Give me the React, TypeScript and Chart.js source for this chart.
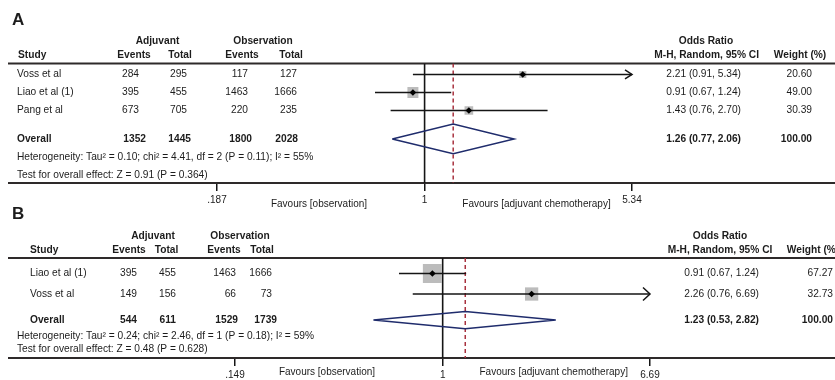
import React, { useEffect, useRef } from "react";
import { Chart, registerables } from "chart.js";

Chart.register(...registerables);

// ---------------- Panel A data ----------------
const studiesA = ["Voss et al", "Liao et al (1)", "Pang et al"];
const adjEventsA = [284, 395, 673];
const adjTotalA = [295, 455, 705];
const obsEventsA = [117, 1463, 220];
const obsTotalA = [127, 1666, 235];
const oddsRatioA = [2.21, 0.91, 1.43];
const ciLowerA = [0.91, 0.67, 0.76];
const ciUpperA = [5.34, 1.24, 2.7];
const weightsA = [20.6, 49.0, 30.39];
const overallCountsA = [1352, 1445, 1800, 2028];
const overallEstimateA = [1.26, 0.77, 2.06]; // OR, lower, upper
const overallWeightA = 100;
const heterogeneityA = "Heterogeneity: Tau² = 0.10; chi² = 4.41, df = 2 (P = 0.11); I² = 55%";
const overallTestA = "Test for overall effect: Z = 0.91 (P = 0.364)";
const tickValuesA = [0.187, 1, 5.34];
const tickLabelsA = [".187", "1", "5.34"];

// ---------------- Panel B data ----------------
const studiesB = ["Liao et al (1)", "Voss et al"];
const adjEventsB = [395, 149];
const adjTotalB = [455, 156];
const obsEventsB = [1463, 66];
const obsTotalB = [1666, 73];
const oddsRatioB = [0.91, 2.26];
const ciLowerB = [0.67, 0.76];
const ciUpperB = [1.24, 6.69];
const weightsB = [67.27, 32.73];
const overallCountsB = [544, 611, 1529, 1739];
const overallEstimateB = [1.23, 0.53, 2.82];
const overallWeightB = 100;
const heterogeneityB = "Heterogeneity: Tau² = 0.24; chi² = 2.46, df = 1 (P = 0.18); I² = 59%";
const overallTestB = "Test for overall effect: Z = 0.48 (P = 0.628)";
const tickValuesB = [0.149, 1, 6.69];
const tickLabelsB = [".149", "1", "6.69"];

// ---------------- shared texts ----------------
const groupHeaders = ["Adjuvant", "Observation", "Odds Ratio"];
const columnHeaders = ["Events", "Total", "Events", "Total"];
const studyHeader = "Study";
const ciHeader = "M-H, Random, 95% CI";
const weightHeader = "Weight (%)";
const overallLabel = "Overall";
const favoursLabels = ["Favours [observation]", "Favours [adjuvant chemotherapy]"];

const FONT = '"Liberation Sans", Arial, Helvetica, sans-serif';
const TEXT_SIZE = 10.2;
const TEXT = "#1c1c1c";
const LINE = "#151515";
const RULE = "#2e2a2a";
const RED = "#a8323f";
const NAVY = "#1f2c6c";
const GREY = "#bcbcbc";

type Panel = {
  studies: string[];
  adjEvents: number[];
  adjTotal: number[];
  obsEvents: number[];
  obsTotal: number[];
  or: number[];
  lo: number[];
  hi: number[];
  weights: number[];
  overallCounts: number[];
  overall: number[];
  overallWeight: number;
  het: string;
  test: string;
  tickValues: number[];
  tickLabels: string[];
};

type Layout = {
  label: string;
  labelX: number;
  labelDy: number;
  padding: { left: number; right: number; top: number; bottom: number };
  yMin: number;
  yMax: number;
  rows: number[];
  overallY: number;
  hetY: number;
  testY: number;
  diamondHalf: number;
  squareScale: number;
  header1Dy: number;
  header2Dy: number;
  groupX: number[];
  studyX: number;
  colX: number[];
  ciHeaderX: number;
  weightHeaderX: number;
  rowLabelX: number;
  hetX: number;
  valueRight: number[];
  overallRight: number[];
  orRight: number;
  weightRight: number;
  favoursX: number[];
  favoursDy: number;
  arrowLen: number;
  arrowHalf: number;
};

const panelA: Panel = {
  studies: studiesA, adjEvents: adjEventsA, adjTotal: adjTotalA, obsEvents: obsEventsA, obsTotal: obsTotalA,
  or: oddsRatioA, lo: ciLowerA, hi: ciUpperA, weights: weightsA, overallCounts: overallCountsA,
  overall: overallEstimateA, overallWeight: overallWeightA, het: heterogeneityA, test: overallTestA,
  tickValues: tickValuesA, tickLabels: tickLabelsA,
};

const panelB: Panel = {
  studies: studiesB, adjEvents: adjEventsB, adjTotal: adjTotalB, obsEvents: obsEventsB, obsTotal: obsTotalB,
  or: oddsRatioB, lo: ciLowerB, hi: ciUpperB, weights: weightsB, overallCounts: overallCountsB,
  overall: overallEstimateB, overallWeight: overallWeightB, het: heterogeneityB, test: overallTestB,
  tickValues: tickValuesB, tickLabels: tickLabelsB,
};

const AXIS_H = 20;

const layoutA: Layout = {
  label: "A", labelX: 12, labelDy: -43,
  padding: { left: 217, right: 203, top: 63.5, bottom: 380 - 183 - AXIS_H },
  yMin: 0.39, yMax: 7.03, rows: [1, 2, 3], overallY: 4.58, hetY: 5.6, testY: 6.6,
  diamondHalf: 0.83, squareScale: 1.57,
  header1Dy: -22.5, header2Dy: -8.5,
  groupX: [157.5, 263, 706], studyX: 18, colX: [134, 180, 242, 291], ciHeaderX: 706.7, weightHeaderX: 800,
  rowLabelX: 17, hetX: 17,
  valueRight: [139, 187, 248, 297], overallRight: [146, 191, 252, 298], orRight: 741, weightRight: 812,
  favoursX: [319, 536.5], favoursDy: 21,
  arrowLen: 7, arrowHalf: 4.5,
};

const layoutB: Layout = {
  label: "B", labelX: 12, labelDy: -43.5,
  padding: { left: 235, right: 185, top: 258, bottom: 380 - 358 - AXIS_H },
  yMin: 0.244, yMax: 5.12, rows: [1, 2], overallY: 3.27, hetY: 4.05, testY: 4.68,
  diamondHalf: 0.42, squareScale: 2.32,
  header1Dy: -22.3, header2Dy: -8,
  groupX: [153, 240, 720], studyX: 30, colX: [129, 166.5, 224, 262], ciHeaderX: 720, weightHeaderX: 813,
  rowLabelX: 30, hetX: 17,
  valueRight: [137, 176, 236, 272], overallRight: [137, 176, 238, 277], orRight: 759, weightRight: 833,
  favoursX: [327, 553.7], favoursDy: 14,
  arrowLen: 7, arrowHalf: 6.5,
};

const fmtCI = (e: number, l: number, h: number) => `${e.toFixed(2)} (${l.toFixed(2)}, ${h.toFixed(2)})`;

function makePlugin(p: Panel, L: Layout) {
  return {
    id: "forestText" + L.label,
    beforeDatasetsDraw(chart: any) {
      const ctx = chart.ctx;
      const { top, bottom } = chart.chartArea;
      ctx.save();
      ctx.strokeStyle = RULE;
      ctx.lineWidth = 2;
      ctx.beginPath();
      ctx.moveTo(8, top);
      ctx.lineTo(835, top);
      ctx.moveTo(8, bottom);
      ctx.lineTo(835, bottom);
      ctx.stroke();
      ctx.restore();
    },
    afterDatasetsDraw(chart: any) {
      const ctx = chart.ctx;
      const xs = chart.scales.x;
      const ys = chart.scales.y;
      const xMax = p.tickValues[p.tickValues.length - 1];
      const xMin = p.tickValues[0];
      ctx.save();
      ctx.strokeStyle = LINE;
      ctx.lineWidth = 1.5;
      p.hi.forEach((h, i) => {
        const y = ys.getPixelForValue(L.rows[i]);
        if (h >= xMax) {
          const tip = xs.getPixelForValue(xMax);
          ctx.beginPath();
          ctx.moveTo(tip - L.arrowLen, y - L.arrowHalf);
          ctx.lineTo(tip, y);
          ctx.lineTo(tip - L.arrowLen, y + L.arrowHalf);
          ctx.stroke();
        }
        if (p.lo[i] <= xMin) {
          const tip = xs.getPixelForValue(xMin);
          ctx.beginPath();
          ctx.moveTo(tip + L.arrowLen, y - L.arrowHalf);
          ctx.lineTo(tip, y);
          ctx.lineTo(tip + L.arrowLen, y + L.arrowHalf);
          ctx.stroke();
        }
      });
      ctx.restore();
    },
    afterDraw(chart: any) {
      const ctx = chart.ctx;
      const { top, bottom } = chart.chartArea;
      const ys = chart.scales.y;
      const put = (t: string, x: number, y: number, align: CanvasTextAlign, bold: boolean, size = TEXT_SIZE) => {
        ctx.font = `${bold ? "bold " : ""}${size}px ${FONT}`;
        ctx.textAlign = align;
        ctx.fillText(t, x, y);
      };
      ctx.save();
      ctx.fillStyle = TEXT;
      ctx.textBaseline = "middle";
      // panel letter
      put(L.label, L.labelX, top + L.labelDy, "left", true, 17);
      // headers
      const h1 = top + L.header1Dy;
      const h2 = top + L.header2Dy;
      groupHeaders.forEach((g, i) => put(g, L.groupX[i], h1, "center", true));
      put(studyHeader, L.studyX, h2, "left", true);
      columnHeaders.forEach((c, i) => put(c, L.colX[i], h2, "center", true));
      put(ciHeader, L.ciHeaderX, h2, "center", true);
      put(weightHeader, L.weightHeaderX, h2, "center", true);
      // study rows
      p.studies.forEach((s, i) => {
        const y = ys.getPixelForValue(L.rows[i]);
        put(s, L.rowLabelX, y, "left", false);
        const vals = [p.adjEvents[i], p.adjTotal[i], p.obsEvents[i], p.obsTotal[i]];
        vals.forEach((v, j) => put(String(v), L.valueRight[j], y, "right", false));
        put(fmtCI(p.or[i], p.lo[i], p.hi[i]), L.orRight, y, "right", false);
        put(p.weights[i].toFixed(2), L.weightRight, y, "right", false);
      });
      // overall row
      const yo = ys.getPixelForValue(L.overallY);
      put(overallLabel, L.rowLabelX, yo, "left", true);
      p.overallCounts.forEach((v, j) => put(String(v), L.overallRight[j], yo, "right", true));
      put(fmtCI(p.overall[0], p.overall[1], p.overall[2]), L.orRight, yo, "right", true);
      put(p.overallWeight.toFixed(2), L.weightRight, yo, "right", true);
      // heterogeneity & test
      put(p.het, L.hetX, ys.getPixelForValue(L.hetY), "left", false);
      put(p.test, L.hetX, ys.getPixelForValue(L.testY), "left", false);
      // favours labels
      favoursLabels.forEach((f, i) => put(f, L.favoursX[i], bottom + L.favoursDy, "center", false, 10));
      ctx.restore();
    },
  };
}

function buildConfig(p: Panel, L: Layout): any {
  const pts = p.or.map((v, i) => ({ x: v, y: L.rows[i] }));
  const [est, lo, hi] = p.overall;
  const oy = L.overallY;
  const datasets: any[] = [];
  datasets.push({
    label: "estimate",
    data: pts,
    pointStyle: "rectRot",
    pointRadius: 3.3,
    backgroundColor: "#000",
    borderColor: "#000",
    borderWidth: 0,
    showLine: false,
    order: 1,
  });
  p.or.forEach((_, i) => {
    datasets.push({
      label: "ci" + i,
      data: [
        { x: p.lo[i], y: L.rows[i] },
        { x: p.hi[i], y: L.rows[i] },
      ],
      showLine: true,
      borderColor: LINE,
      borderWidth: 1.5,
      pointRadius: 0,
      order: 2,
    });
  });
  datasets.push({
    label: "weight",
    data: pts,
    pointStyle: "rect",
    pointRadius: p.weights.map((w) => (Math.sqrt(w) * L.squareScale) / (2 * Math.SQRT1_2)),
    backgroundColor: GREY,
    borderWidth: 0,
    showLine: false,
    order: 3,
  });
  datasets.push({
    label: "overall",
    data: [
      { x: lo, y: oy },
      { x: est, y: oy - L.diamondHalf },
      { x: hi, y: oy },
      { x: est, y: oy + L.diamondHalf },
      { x: lo, y: oy },
    ],
    showLine: true,
    borderColor: NAVY,
    borderWidth: 1.5,
    borderJoinStyle: "miter",
    fill: false,
    tension: 0,
    pointRadius: 0,
    order: 4,
  });
  datasets.push({
    label: "overallLine",
    data: [
      { x: est, y: L.yMin },
      { x: est, y: L.yMax },
    ],
    showLine: true,
    borderColor: RED,
    borderDash: [4, 3],
    borderWidth: 1.5,
    pointRadius: 0,
    order: 5,
  });
  datasets.push({
    label: "null",
    data: [
      { x: 1, y: L.yMin },
      { x: 1, y: L.yMax },
    ],
    showLine: true,
    borderColor: LINE,
    borderWidth: 1.6,
    pointRadius: 0,
    order: 6,
  });

  return {
    type: "scatter",
    data: { datasets },
    options: {
      animation: false,
      responsive: false,
      events: [],
      layout: { padding: L.padding },
      plugins: { legend: { display: false }, tooltip: { enabled: false } },
      scales: {
        x: {
          type: "logarithmic",
          min: p.tickValues[0],
          max: p.tickValues[p.tickValues.length - 1],
          afterBuildTicks: (s: any) => {
            s.ticks = p.tickValues.map((v) => ({ value: v }));
          },
          afterFit: (s: any) => {
            s.height = AXIS_H;
          },
          grid: { drawOnChartArea: false, drawTicks: true, tickLength: 8, color: LINE, lineWidth: 1.5 },
          border: { display: false },
          ticks: {
            autoSkip: false,
            maxRotation: 0,
            padding: 3,
            color: TEXT,
            font: { family: FONT, size: 10 },
            callback: (_v: any, i: number) => p.tickLabels[i],
          },
        },
        y: { type: "linear", reverse: true, min: L.yMin, max: L.yMax, display: false },
      },
    },
    plugins: [makePlugin(p, L)],
  };
}

function ForestPanel({ panel, layout }: { panel: Panel; layout: Layout }) {
  const ref = useRef<HTMLCanvasElement | null>(null);
  useEffect(() => {
    if (!ref.current) return;
    const chart = new Chart(ref.current, buildConfig(panel, layout));
    return () => chart.destroy();
  }, [panel, layout]);
  return (
    <canvas
      ref={ref}
      width={835}
      height={380}
      style={{ position: "absolute", left: 0, top: 0, width: 835, height: 380 }}
    />
  );
}

export default function App() {
  return (
    <div style={{ position: "fixed", left: 0, top: 0, width: 835, height: 380, background: "#fff", overflow: "hidden" }}>
      <ForestPanel panel={panelA} layout={layoutA} />
      <ForestPanel panel={panelB} layout={layoutB} />
    </div>
  );
}
